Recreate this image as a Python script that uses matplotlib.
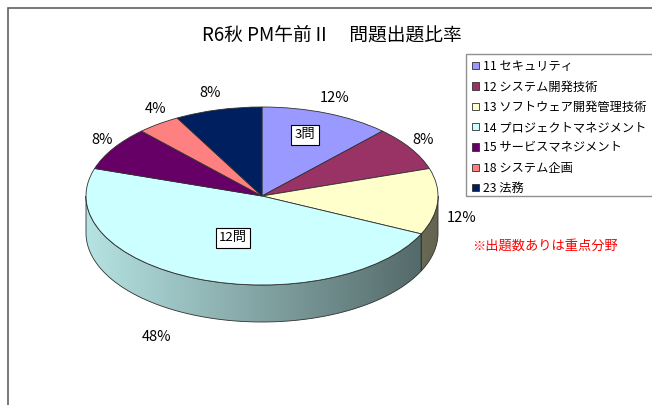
import numpy as np
import matplotlib
matplotlib.use('Agg')
import matplotlib.pyplot as plt
from matplotlib.patches import Polygon, Rectangle
from matplotlib.colors import to_rgb

plt.rcParams['font.family'] = ['Noto Sans CJK JP', 'DejaVu Sans']

# data
title = 'R6秋 PM午前Ⅱ　問題出題比率'
labels = ['11 セキュリティ', '12 システム開発技術', '13 ソフトウェア開発管理技術',
          '14 プロジェクトマネジメント', '15 サービスマネジメント',
          '18 システム企画', '23 法務']
counts = [3, 2, 3, 12, 2, 1, 2]
colors = ['#9999FF', '#993366', '#FFFFCC', '#CCFFFF', '#660066', '#FF8080', '#001F5F']
count_boxes = [0, 3]          # slices that get a "n問" box
note = '※出題数ありは重点分野'

# layout (pixels, from top-left of the 652x405 image)
W, H = 652, 405
cx, cy, rx, ry = 262, 196, 176, 89   # pie centre and radii
depth = 37 / ry                      # thickness of the pie in data units
pct_pos = [(335, 98), (423, 140), (462, 218), (157, 337), (102, 140), (156, 109), (210, 93)]
box_pos = {0: (305, 135), 3: (233, 238)}

fig = plt.figure(figsize=(W / 100, H / 100), dpi=100)

# outer chart frame (cut off at right/bottom like the original)
fig.patches.append(Rectangle((8 / W, -0.05), 1.1, 1 - 8 / H + 0.05, transform=fig.transFigure,
                             fill=False, edgecolor='#606060', linewidth=1.2))
# legend frame, also running past the right edge
fig.patches.append(Rectangle((466 / W, 1 - 196 / H), 1.0, (196 - 54) / H,
                             transform=fig.transFigure, fill=False,
                             edgecolor='#909090', linewidth=1.0))

xl, yl = (-1.1, 1.1), (-1.6, 1.2)
ax = fig.add_axes([(cx + xl[0] * rx) / W, (H - cy + yl[0] * ry) / H,
                   (xl[1] - xl[0]) * rx / W, (yl[1] - yl[0]) * ry / H])

# side walls: visible part of each slice where sin(theta) < 0
total = sum(counts)
angles = 90 - 360 * np.concatenate([[0], np.cumsum(counts)]) / total
for i, c in enumerate(colors):
    hi, lo = angles[i], angles[i + 1]
    for shift in (0, -360, 360):
        a = max(lo + shift, -180)
        b = min(hi + shift, 0)
        if b - a <= 0:
            continue
        t = np.radians(np.linspace(a, b, 80))
        xs, ys = np.cos(t), np.sin(t)
        pts = np.vstack([np.column_stack([xs, ys]),
                         np.column_stack([xs[::-1], ys[::-1] - depth])])
        poly = Polygon(pts, closed=True, facecolor='none', edgecolor='#303030',
                       linewidth=0.6, zorder=3)
        ax.add_patch(poly)
        gx = np.linspace(-1, 1, 200)
        shade = np.clip(0.64 - 0.25 * gx, 0, 1)
        img = np.array(to_rgb(c))[None, None, :] * shade[None, :, None]
        im = ax.imshow(img, extent=[-1, 1, -1 - depth, 0.05], aspect='auto', zorder=2,
                       interpolation='bilinear')
        im.set_clip_path(poly)

wedges, _ = ax.pie(counts, colors=colors, startangle=90, counterclock=False, radius=1,
                   wedgeprops=dict(edgecolor='#303030', linewidth=0.6, zorder=4))
for w in wedges:
    w.set_zorder(4)
ax.set_aspect('auto')
ax.set_xlim(*xl)
ax.set_ylim(*yl)
ax.axis('off')

# percentage labels and count boxes
for i, n in enumerate(counts):
    px, py = pct_pos[i]
    fig.text(px / W, 1 - py / H, f'{round(100 * n / total)}%', ha='center', va='center',
             fontsize=10.5)
for i in count_boxes:
    px, py = box_pos[i]
    fig.text(px / W, 1 - py / H, f'{counts[i]}問', ha='center', va='center', fontsize=9.5,
             bbox=dict(boxstyle='square,pad=0.25', facecolor='white', edgecolor='black',
                       linewidth=0.8))

fig.text(332 / W, 1 - 35 / H, title, ha='center', va='center', fontsize=13.5)
fig.text(545 / W, 1 - 246 / H, note, ha='center', va='center', fontsize=9.5, color='#FF0000')

leg = fig.legend(wedges, labels, loc='upper left', bbox_to_anchor=(466 / W, 1 - 54 / H),
                 fontsize=8.8, frameon=False,
                 handlelength=0.55, handleheight=0.55, handletextpad=0.35,
                 labelspacing=0.6, borderpad=0.5, borderaxespad=0)

fig.savefig('out.png', dpi=100)
